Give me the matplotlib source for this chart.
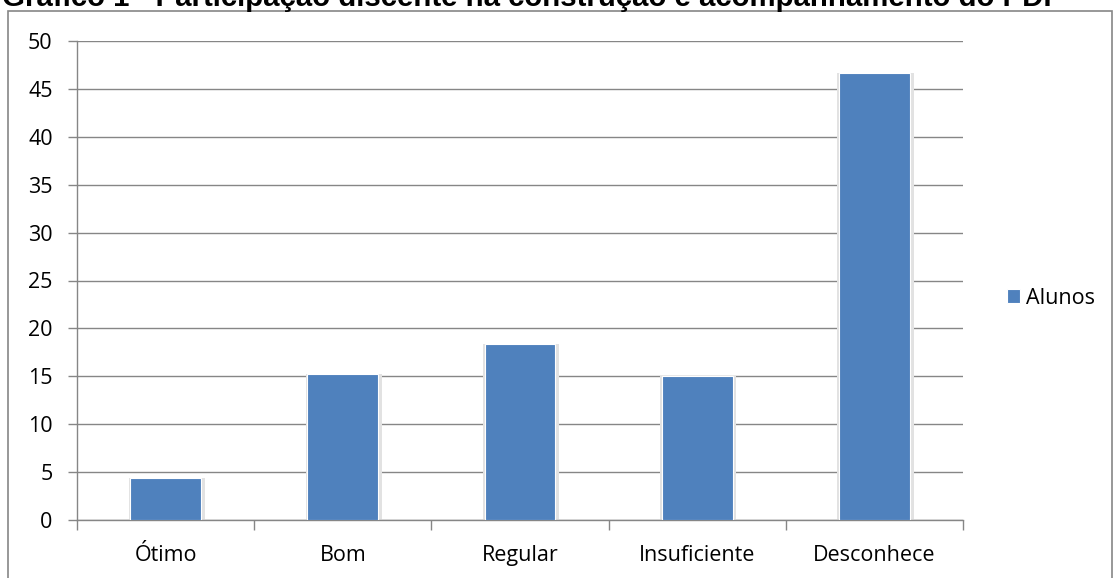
import matplotlib.pyplot as plt
from matplotlib.patches import Rectangle
import numpy as np

categorias = ["Ótimo", "Bom", "Regular", "Insuficiente", "Desconhece"]
alunos = [4.4, 15.2, 18.4, 15.0, 46.7]
yticks = [0, 5, 10, 15, 20, 25, 30, 35, 40, 45, 50]

plt.rcParams['font.family'] = ['Open Sans', 'DejaVu Sans']

W, H = 1115, 578
fig = plt.figure(figsize=(W / 100, H / 100), dpi=100)
ax = fig.add_axes([77 / W, 1 - 520 / H, 886 / W, 479 / H])

x = np.arange(len(categorias))
# soft shadow behind bars
ax.bar(x + 0.006, alunos, width=0.43, color='#e2e2e2', zorder=2, linewidth=0)
bars = ax.bar(x, alunos, width=0.4, color='#4F81BD', edgecolor='white',
              linewidth=0.8, label='Alunos', zorder=3)

ax.set_xlim(-0.5, len(categorias) - 0.5)
ax.set_ylim(0, 50)
ax.set_yticks(yticks)
ax.set_yticklabels([str(v) for v in yticks], fontsize=15.5)
ax.set_xticks(x)
ax.set_xticklabels(categorias, fontsize=15.5)
ax.set_xticks(np.arange(-0.5, len(categorias)), minor=True)
ax.tick_params(axis='x', which='major', length=0, pad=18)
ax.tick_params(axis='x', which='minor', length=7, color='#868686', width=1)
ax.tick_params(axis='y', length=6.5, color='#868686', width=1, pad=11)

ax.grid(axis='y', color='#868686', linewidth=1, zorder=0)
for s in ['top', 'right']:
    ax.spines[s].set_visible(False)
for s in ['left', 'bottom']:
    ax.spines[s].set_color('#868686')
    ax.spines[s].set_linewidth(1)

ax.legend(handles=[bars], loc='center left', bbox_to_anchor=(1.04, 0.463),
          frameon=False, fontsize=15.5, handlelength=0.6, handleheight=0.6,
          handletextpad=0.3, borderaxespad=0)

# outer chart frame
fig.patches.append(Rectangle((8 / W, -0.01), 1104 / W, 1.01 - 11 / H,
                             transform=fig.transFigure, fill=False,
                             edgecolor='#868686', linewidth=1.2))

fig.text(2 / W, 1 - 6 / H,
         "Gráfico 1 - Participação discente na construção e acompanhamento do PDI",
         family=['Liberation Sans', 'DejaVu Sans'], fontweight='bold',
         fontsize=21.2, va='baseline', ha='left')

plt.savefig('out.png', dpi=100)
